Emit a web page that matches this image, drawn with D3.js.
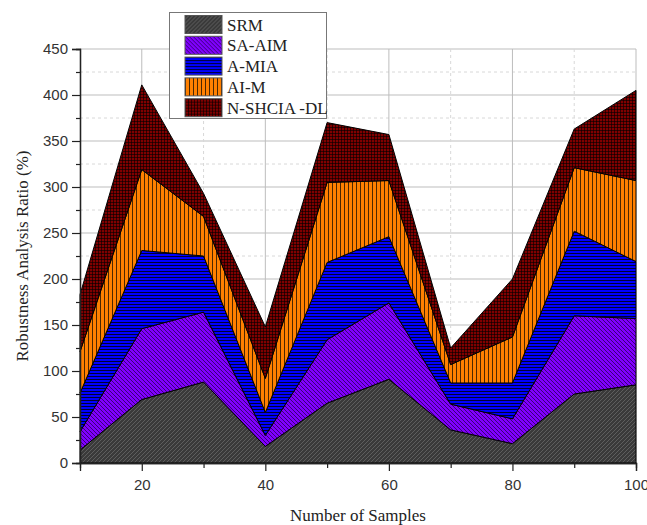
<!DOCTYPE html>
<html>
<head>
<meta charset="utf-8">
<script src="https://cdn.jsdelivr.net/npm/d3@7"></script>
<style>
  body { margin: 0; background: #fff; }
  svg { display: block; }
</style>
</head>
<body>
<div id="chart"></div>
<script>
// Data (individual layer values, stacked in the chart)
const samples = [10, 20, 30, 40, 50, 60, 70, 80, 90, 100];
const seriesNames = ["SRM", "SA-AIM", "A-MIA", "AI-M", "N-SHCIA -DL"];
const srm     = [14, 69, 88, 18, 65, 91, 36, 21, 75, 85];
const saAim   = [20, 77, 76, 12, 69, 83, 28, 27, 85, 72];
const aMia    = [42, 85, 61, 25, 84, 72, 23, 39, 92, 62];
const aiM     = [45, 88, 43, 37, 87, 61, 20, 50, 69, 88];
const nShcia  = [62, 92, 25, 56, 65, 50, 18, 63, 42, 98];
const yTicks = [0, 50, 100, 150, 200, 250, 300, 350, 400, 450];
const xTicks = [20, 40, 60, 80, 100];

const seriesValues = [srm, saAim, aMia, aiM, nShcia];
const rows = samples.map((s, i) => {
    const r = { x: s };
    seriesNames.forEach((n, k) => r[n] = seriesValues[k][i]);
    return r;
});

// Set the dimensions and margins of the graph
const margin = { top: 49, right: 11, bottom: 62, left: 80 },
    width = 647 - margin.left - margin.right,
    height = 525 - margin.top - margin.bottom;

const root = d3.select("#chart")
    .append("svg")
    .attr("width", 647)
    .attr("height", 525);

// Fill patterns
const defs = root.append("defs");
function pattern(id, w, h, bg, draw) {
    const p = defs.append("pattern")
        .attr("id", id)
        .attr("patternUnits", "userSpaceOnUse")
        .attr("width", w)
        .attr("height", h);
    p.append("rect").attr("width", w).attr("height", h).attr("fill", bg);
    draw(p);
}
pattern("p-srm", 4, 4, "#3a3a3a", p => p.append("path")
    .attr("d", "M-1,1 l2,-2 M0,4 l4,-4 M3,5 l2,-2")
    .attr("stroke", "#5e5e5e").attr("stroke-width", 1));
pattern("p-saaim", 4, 4, "#8000ff", p => p.append("path")
    .attr("d", "M-1,3 l2,2 M0,0 l4,4 M3,-1 l2,2")
    .attr("stroke", "#2a0055").attr("stroke-width", 0.8));
pattern("p-amia", 3, 3, "#0000ff", p => p.append("path")
    .attr("d", "M0,0.5 H3")
    .attr("stroke", "#000").attr("stroke-width", 0.8));
pattern("p-aim", 4, 4, "#ff8000", p => p.append("path")
    .attr("d", "M0.5,0 V4")
    .attr("stroke", "#000").attr("stroke-width", 0.7));
pattern("p-nsh", 3, 3, "#800000", p => p.append("path")
    .attr("d", "M0.5,0 V3 M0,0.5 H3")
    .attr("stroke", "#000").attr("stroke-width", 0.6));
const fills = ["url(#p-srm)", "url(#p-saaim)", "url(#p-amia)", "url(#p-aim)", "url(#p-nsh)"];

const svg = root.append("g")
    .attr("transform", `translate(${margin.left},${margin.top})`);

// Scales
const x = d3.scaleLinear().domain([10, 100]).range([0, width]);
const y = d3.scaleLinear().domain([0, 450]).range([height, 0]);

// Grid lines
const grid = svg.append("g");
d3.range(25, 450, 50).forEach(v => {
    grid.append("line")
        .attr("x1", 0).attr("x2", width)
        .attr("y1", y(v)).attr("y2", y(v))
        .attr("stroke", "#d8d8d8").attr("stroke-dasharray", "3,3");
});
d3.range(50, 451, 50).forEach(v => {
    grid.append("line")
        .attr("x1", 0).attr("x2", width)
        .attr("y1", y(v)).attr("y2", y(v))
        .attr("stroke", "#bdbdbd");
});
d3.range(30, 100, 20).forEach(v => {
    grid.append("line")
        .attr("x1", x(v)).attr("x2", x(v))
        .attr("y1", 0).attr("y2", height)
        .attr("stroke", "#d8d8d8").attr("stroke-dasharray", "3,3");
});
xTicks.forEach(v => {
    grid.append("line")
        .attr("x1", x(v)).attr("x2", x(v))
        .attr("y1", 0).attr("y2", height)
        .attr("stroke", "#bdbdbd");
});

// Stacked areas
const stack = d3.stack().keys(seriesNames);
const layers = stack(rows);
const area = d3.area()
    .x(d => x(d.data.x))
    .y0(d => y(d[0]))
    .y1(d => y(d[1]));

svg.selectAll("path.layer")
    .data(layers)
    .enter()
    .append("path")
    .attr("class", "layer")
    .attr("d", area)
    .attr("fill", (d, i) => fills[i])
    .attr("stroke", "#000")
    .attr("stroke-width", 1)
    .attr("stroke-linejoin", "round");

// Axes
const axisFont = "'Liberation Sans', Arial, sans-serif";
svg.append("g")
    .call(d3.axisLeft(y).tickValues(yTicks).tickSize(8).tickPadding(4));
svg.append("g")
    .call(d3.axisLeft(y).tickValues(d3.range(25, 450, 50)).tickSize(4).tickFormat(""));
svg.append("g")
    .attr("transform", `translate(0, ${height})`)
    .call(d3.axisBottom(x).tickValues(xTicks).tickSize(8).tickPadding(8));
svg.append("g")
    .attr("transform", `translate(0, ${height})`)
    .call(d3.axisBottom(x).tickValues([30, 50, 70, 90]).tickSize(5).tickFormat(""));

svg.selectAll(".domain").attr("stroke", "#222").attr("stroke-width", 1.3);
svg.selectAll(".tick line").attr("stroke", "#222").attr("stroke-width", 1.2);
svg.selectAll(".tick text")
    .style("font-family", axisFont)
    .style("font-size", "15px")
    .attr("fill", "#333");

// Axis labels
const titleFont = "'Liberation Serif', 'Times New Roman', serif";
svg.append("text")
    .attr("x", width / 2)
    .attr("y", height + 58)
    .attr("text-anchor", "middle")
    .style("font-family", titleFont)
    .style("font-size", "17px")
    .attr("fill", "#222")
    .text("Number of Samples");

svg.append("text")
    .attr("transform", "rotate(-90)")
    .attr("x", -height / 2)
    .attr("y", -margin.left + 28)
    .attr("text-anchor", "middle")
    .style("font-family", titleFont)
    .style("font-size", "17px")
    .attr("fill", "#222")
    .text("Robustness Analysis Ratio (%)");

// Legend
const legend = root.append("g").attr("transform", "translate(169.5, 12.5)");
legend.append("rect")
    .attr("width", 157)
    .attr("height", 106)
    .attr("fill", "#fff")
    .attr("stroke", "#777");
seriesNames.forEach((n, i) => {
    const g = legend.append("g").attr("transform", `translate(15.5, ${3 + i * 20.8})`);
    g.append("rect")
        .attr("width", 37)
        .attr("height", 18)
        .attr("fill", fills[i])
        .attr("stroke", "#555");
    g.append("text")
        .attr("x", 42)
        .attr("y", 15)
        .style("font-family", titleFont)
        .style("font-size", "17px")
        .attr("fill", "#222")
        .text(n);
});
</script>
</body>
</html>
